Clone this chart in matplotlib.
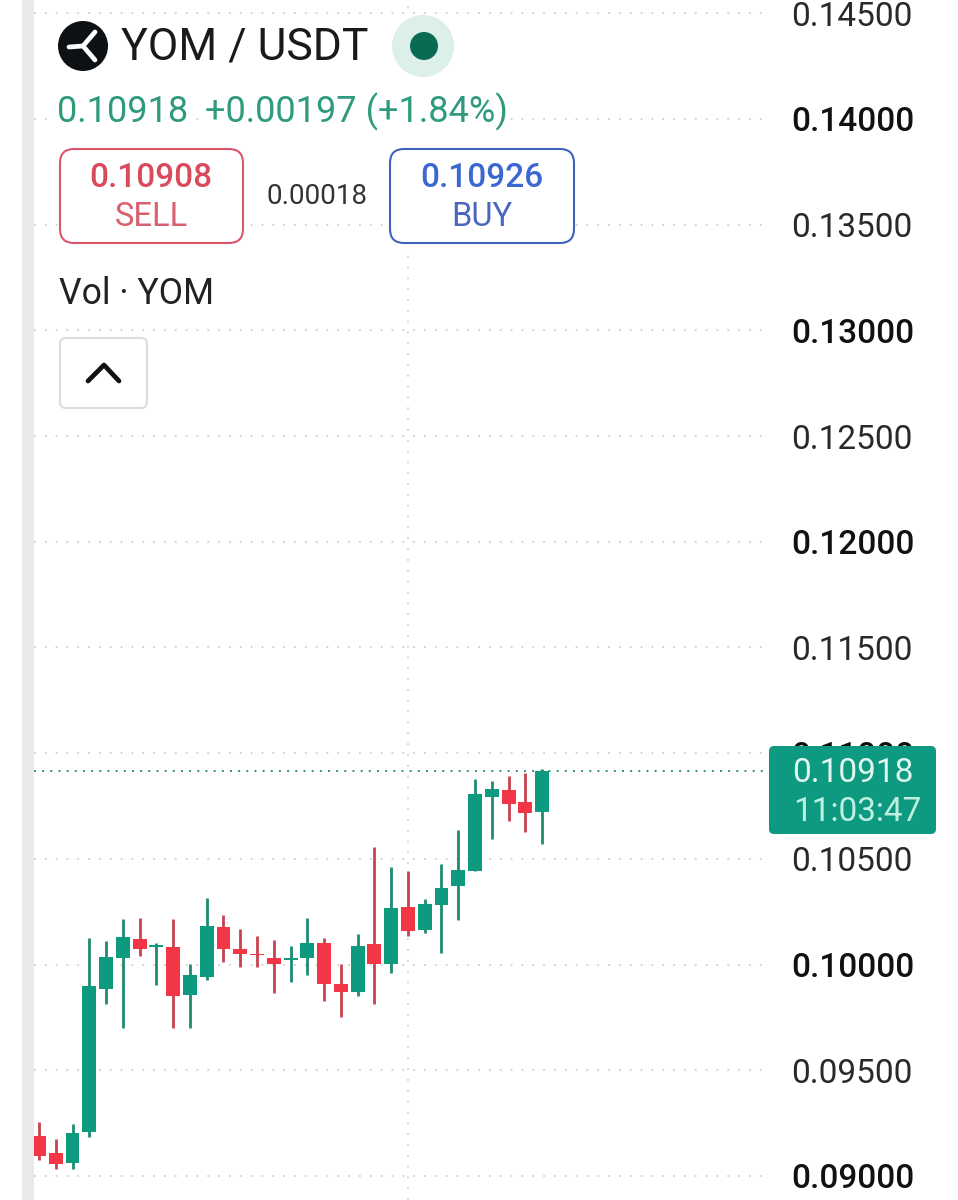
import matplotlib
matplotlib.use("Agg")
import matplotlib.pyplot as plt
from matplotlib.patches import FancyBboxPatch, Circle, Rectangle

plt.rcParams['font.family'] = ['Roboto', 'DejaVu Sans']

# candle data, oldest first
opens = [0.09189, 0.09109, 0.09063, 0.09210, 0.09883, 0.10030, 0.10123, 0.10082, 0.10085, 0.09855, 0.09940,
         0.10179, 0.10075, 0.10052, 0.10031, 0.10020, 0.10030, 0.10104, 0.09910, 0.09869, 0.10099, 0.10001,
         0.10274, 0.10162, 0.10282, 0.10370, 0.10441, 0.10793, 0.10824, 0.10768, 0.10722]
closes = [0.09095, 0.09057, 0.09203, 0.09900, 0.10038, 0.10132, 0.10072, 0.10091, 0.09850, 0.09952, 0.10184,
          0.10072, 0.10049, 0.10045, 0.10001, 0.10030, 0.10104, 0.09907, 0.09869, 0.10090, 0.10001, 0.10269,
          0.10159, 0.10288, 0.10364, 0.10449, 0.10805, 0.10829, 0.10760, 0.10717, 0.10918]
highs = [0.09254, 0.09175, 0.09246, 0.10124, 0.10113, 0.10217, 0.10222, 0.10104, 0.10214, 0.10003, 0.10315,
         0.10236, 0.10167, 0.10137, 0.10118, 0.10090, 0.10222, 0.10127, 0.10004, 0.10146, 0.10555, 0.10463,
         0.10444, 0.10312, 0.10477, 0.10635, 0.10876, 0.10870, 0.10894, 0.10905, 0.10927]
lows = [0.09076, 0.09035, 0.09035, 0.09186, 0.09812, 0.09702, 0.10041, 0.09902, 0.09702, 0.09702, 0.09927,
        0.10011, 0.09990, 0.09990, 0.09864, 0.09916, 0.09949, 0.09826, 0.09751, 0.09853, 0.09815, 0.09959,
        0.10134, 0.10151, 0.10053, 0.10209, 0.10441, 0.10593, 0.10678, 0.10626, 0.10571]
price_ticks = [0.090, 0.095, 0.100, 0.105, 0.110, 0.115, 0.120, 0.125, 0.130, 0.135, 0.140, 0.145]
bold_ticks = [0.090, 0.100, 0.110, 0.120, 0.130, 0.140]
grid_col_index = 22
last_price = 0.10918

GREEN, RED = '#0d9a7e', '#f23645'
GREEN_W, RED_W = '#1f8a72', '#c8424f'
W, H = 958, 1200
PX_PER_CANDLE = 16.77
PX_PER_UNIT = 21140

fig = plt.figure(figsize=(W / 100, H / 100), dpi=100, facecolor='white')

# main price axes, spanning the plot area in pixels 34..768
ax = fig.add_axes([34 / W, 0, (768 - 34) / W, 1])
ax.set_xlim((34 - 39) / PX_PER_CANDLE, (768 - 39) / PX_PER_CANDLE)
ax.set_ylim(0.09 - 24 / PX_PER_UNIT, 0.09 + 1176 / PX_PER_UNIT)
for s in ax.spines.values():
    s.set_visible(False)
ax.yaxis.tick_right()
ax.set_yticks(price_ticks)
ax.set_yticklabels([f'{t:.5f}' for t in price_ticks])
ax.set_xticks([grid_col_index])
ax.tick_params(axis='x', length=0, labelbottom=False)
ax.tick_params(axis='y', length=0, pad=17, labelsize=24, labelcolor='#2a2a2a')
for lab, t in zip(ax.get_yticklabels(), price_ticks):
    if any(abs(t - b) < 1e-9 for b in bold_ticks):
        lab.set_fontweight('medium')
        lab.set_color('#111111')
ax.set_axisbelow(True)
ax.grid(True, color='#d0d0d0', linewidth=1.3, linestyle=(0, (1, 5)))

xs = list(range(len(opens)))
for x, o, c, h, l in zip(xs, opens, closes, highs, lows):
    up = c >= o
    ax.vlines(x, l, h, color=GREEN_W if up else RED_W, linewidth=2.0, zorder=3)
    ax.bar(x, abs(c - o), bottom=min(o, c), width=0.83, color=GREEN if up else RED, zorder=4)
ax.axhline(last_price, color='#2e8f80', linewidth=1.4, linestyle=(0, (1, 3.2)), zorder=2)

# overlay in pixel coordinates
ov = fig.add_axes([0, 0, 1, 1], facecolor='none')
ov.set_xlim(0, W)
ov.set_ylim(H, 0)
ov.axis('off')

ov.add_patch(FancyBboxPatch((22, -20), 12, 1240, boxstyle='round,pad=0,rounding_size=8',
                            fc='#e9e9e9', ec='none'))


def txt(x, y, s, size, color, ha='left', weight='normal', bg=False):
    kw = {}
    if bg:
        kw['bbox'] = dict(fc='white', ec='none', pad=1.5)
    ov.text(x, y, s, fontsize=size, color=color, ha=ha, va='center', fontweight=weight, **kw)


def rbox(x0, y0, x1, y1, r, ec, fc='white', lw=1.5):
    ov.add_patch(FancyBboxPatch((x0, y0), x1 - x0, y1 - y0, boxstyle=f'round,pad=0,rounding_size={r}',
                                fc=fc, ec=ec, linewidth=lw))


# mask hiding the vertical grid line behind the legend block
ov.add_patch(Rectangle((392, 15), 38, 235, fc='white', ec='none'))

# logo
ov.add_patch(Circle((83, 46), 25, fc='#0e1113', ec='none'))
for ex, ey in [(69, 47), (95, 32), (95, 60)]:
    ov.plot([83, ex], [46, ey], color='white', linewidth=3.4, solid_capstyle='round')
txt(121, 48, 'YOM / USDT', 32, '#1a1a1a')
ov.add_patch(Circle((423, 46), 31, fc='#dcefe9', ec='none'))
ov.add_patch(Circle((424, 46), 14, fc='#0a6b55', ec='none'))

txt(57, 112, '0.10918', 26, '#2f9a7e', bg=True)
txt(205, 112, '+0.00197 (+1.84%)', 26, '#2f9a7e', bg=True)

rbox(60, 149, 243, 243, 14, '#d9566a')
txt(151, 178, '0.10908', 24, '#d94a5c', ha='center', weight='medium')
txt(151, 217, 'SELL', 23.5, '#d9606f', ha='center')
txt(317, 197, '0.00018', 20, '#333333', ha='center', bg=True)
rbox(390, 149, 574, 243, 14, '#3f62bd')
txt(482, 178, '0.10926', 24, '#3b68d0', ha='center', weight='medium')
txt(482, 217, 'BUY', 23.5, '#4a68c0', ha='center')

txt(59, 294, 'Vol · YOM', 25.6, '#222222')

rbox(60, 338, 147, 408, 6, '#dcdcdc')
ov.plot([88, 104, 119], [381, 365, 381], color='#111111', linewidth=3.4, solid_capstyle='round')

# last-price tag
rbox(769, 746, 936, 834, 5, 'none', fc='#0e9a80', lw=0)
txt(853, 773, f'{last_price:.5f}', 24, '#dff7ef', ha='center')
txt(857, 812, '11:03:47', 24, '#bdf0e0', ha='center')

fig.savefig('out.png', dpi=100, facecolor='white')
